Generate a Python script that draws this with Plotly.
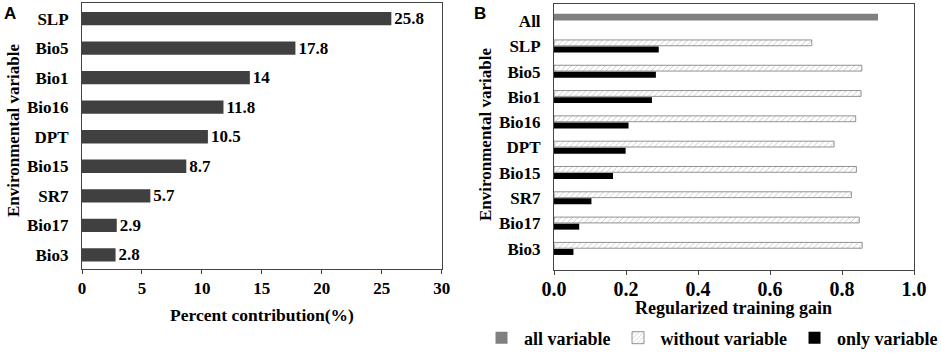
import plotly.graph_objects as go

# ---- Data ----
vars_a = ["SLP", "Bio5", "Bio1", "Bio16", "DPT", "Bio15", "SR7", "Bio17", "Bio3"]
pct_contrib = [25.8, 17.8, 14, 11.8, 10.5, 8.7, 5.7, 2.9, 2.8]

vars_b = ["SLP", "Bio5", "Bio1", "Bio16", "DPT", "Bio15", "SR7", "Bio17", "Bio3"]
all_label = ["All"]
all_gain = [0.90]
without_gain = [0.716, 0.855, 0.853, 0.838, 0.778, 0.840, 0.826, 0.848, 0.856]
only_gain = [0.291, 0.283, 0.272, 0.207, 0.199, 0.164, 0.104, 0.070, 0.054]

x_ticks_a = [0, 5, 10, 15, 20, 25, 30]
x_ticks_b = [0.0, 0.2, 0.4, 0.6, 0.8, 1.0]
x_ticklabels_b = ["0.0", "0.2", "0.4", "0.6", "0.8", "1.0"]

SERIF = "Liberation Serif, Times New Roman, Times, serif"
SANS = "Liberation Sans, Arial, sans-serif"

fig = go.Figure()

# Panel A
fig.add_trace(go.Bar(
    y=vars_a, x=pct_contrib, orientation="h",
    marker=dict(color="#404040", line=dict(width=0)),
    width=0.45,
    text=[str(v) for v in pct_contrib], textposition="outside",
    constraintext="none",
    textfont=dict(family=SERIF, size=17, color="black", weight="bold"),
    cliponaxis=False, showlegend=False,
    xaxis="x", yaxis="y",
))

# Panel B
fig.add_trace(go.Bar(
    y=all_label, x=all_gain, orientation="h", name="all variable",
    marker=dict(color="#808080", line=dict(width=0)),
    offset=0.02, width=0.26,
    xaxis="x2", yaxis="y2",
))
fig.add_trace(go.Bar(
    y=vars_b, x=without_gain, orientation="h", name="without variable",
    marker=dict(color="white",
                line=dict(color="#777777", width=0.8),
                pattern=dict(shape="/", fgcolor="#555555", bgcolor="white",
                             size=4, solidity=0.15)),
    offset=0.02, width=0.23,
    xaxis="x2", yaxis="y2",
))
fig.add_trace(go.Bar(
    y=vars_b, x=only_gain, orientation="h", name="only variable",
    marker=dict(color="black", line=dict(width=0)),
    offset=-0.245, width=0.235,
    xaxis="x2", yaxis="y2",
))

axis_common = dict(showline=True, linecolor="#444444", linewidth=1, mirror=True,
                   showgrid=False, zeroline=False, automargin=False)

fig.update_layout(
    width=941, height=355,
    margin=dict(l=0, r=0, t=0, b=0, autoexpand=False),
    paper_bgcolor="white", plot_bgcolor="white",
    barmode="overlay",
    font=dict(family=SERIF, color="black"),
    xaxis=dict(domain=[82/941, 441.7/941], range=[0, 30], tickvals=x_ticks_a,
               ticks="outside", ticklen=4, tickcolor="#444444",
               tickfont=dict(family=SERIF, size=17, weight="bold"),
               anchor="y", **axis_common),
    yaxis=dict(domain=[1-269/355, 1-3.3/355], type="category",
               categoryarray=vars_a[::-1], categoryorder="array",
               range=[-0.48, 8.52], ticks="", ticklabelstandoff=9,
               tickfont=dict(family=SERIF, size=17, weight="bold"),
               anchor="x", **axis_common),
    xaxis2=dict(domain=[554/941, 914/941], range=[0, 1], tickvals=x_ticks_b,
                ticktext=x_ticklabels_b,
                ticks="outside", ticklen=4, tickcolor="#444444",
                tickfont=dict(family=SERIF, size=20, weight="bold"),
                ticklabelstandoff=-3,
                anchor="y2", **axis_common),
    yaxis2=dict(domain=[1-270/355, 1-4/355], type="category",
                categoryarray=(all_label + vars_b)[::-1], categoryorder="array",
                range=[-0.84, 9.67], ticks="", ticklabelstandoff=9,
                tickfont=dict(family=SERIF, size=17, weight="bold"),
                anchor="x2", **axis_common),
    legend=dict(orientation="h", x=479/941, xanchor="left", y=1-338/355, yanchor="middle",
                font=dict(family=SERIF, size=18, weight="bold"),
                bgcolor="rgba(0,0,0,0)", itemwidth=35, traceorder="normal"),
    showlegend=True,
)

annots = [
    dict(text="Percent contribution(%)", x=261.5/941, y=1-315/355, font=dict(size=17.5)),
    dict(text="Regularized training gain", x=733.3/941, y=1-308/355, font=dict(size=18)),
    dict(text="Environmental variable", x=14/941, y=1-131/355, textangle=-90, font=dict(size=17)),
    dict(text="Environmental variable", x=486/941, y=1-135/355, textangle=-90, font=dict(size=17)),
]
for a in annots:
    f = dict(family=SERIF, color="black", weight="bold")
    f.update(a.pop("font"))
    fig.add_annotation(xref="paper", yref="paper", showarrow=False,
                       xanchor="center", yanchor="middle", font=f, **a)

for letter, cx in [("A", 10), ("B", 480)]:
    fig.add_annotation(xref="paper", yref="paper", x=cx/941, y=1-14/355, text=letter,
                       showarrow=False, xanchor="center", yanchor="middle",
                       font=dict(family=SANS, size=17, color="black", weight="bold"))

fig.write_html("out.html", config={"displayModeBar": False},
               post_script="document.body.style.margin='0px';")
